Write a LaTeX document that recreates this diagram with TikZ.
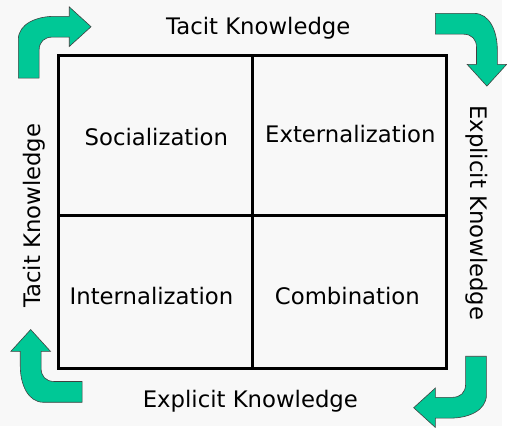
\documentclass[tikz,border=0pt]{standalone}
\usepackage{fontspec}
\setmainfont{DejaVu Sans}
\usetikzlibrary{positioning}

\definecolor{paper}{HTML}{F8F8F8}
\definecolor{flow}{HTML}{00C896}

\tikzset{
  % curved cycle arrow, drawn at a corner and turned with rotate=
  pics/turn/.style={code={
    \filldraw[fill=flow, draw=black!75, line width=0.6pt]
      (-10.5,52) -- (-10.5,13)
      .. controls (-10.5,-3) and (8,-10.5) .. (26,-10.5)
      -- (41,-10.5) -- (41,-20) -- (63,0) -- (41,20) -- (41,10.5)
      -- (24,10.5) .. controls (16,10.5) and (10.5,15) .. (10.5,24)
      -- (10.5,52) -- cycle;
  }}
}

\begin{document}
\begin{tikzpicture}[
  x=1pt, y=-1pt,
  font=\fontsize{23}{27}\selectfont,
  frame/.style={line width=3pt, line cap=rect},
  cell/.style={anchor=base, inner sep=0pt},
  axis/.style={anchor=base, inner sep=0pt}
]

% ── Page ──────────────────────────────────────────────────────────────────
\fill[paper] (0,0) rectangle (507,430);

% ── The 2x2 matrix ────────────────────────────────────────────────────────
\coordinate (nw) at (59,56);
\coordinate (se) at (451,372);
\draw[frame] (nw) rectangle (se);
\draw[frame] (255,56) -- (255,372);
\draw[frame] (59,218) -- (451,218);

\node[cell] (soc) at (158,147) {Socialization};
\node[cell] (ext) at (354,144) {Externalization};
\node[cell] (int) at (153,308) {Internalization};
\node[cell] (com) at (351,308) {Combination};

% ── Knowledge types round the edges ──────────────────────────────────────
\node[axis] (tacitN) at (261,35) {Tacit Knowledge};
\node[axis] (explS) at (253,412) {Explicit Knowledge};
\node[axis, rotate=90] (tacitW) at (41,218) {Tacit Knowledge};
\node[axis, rotate=-90] (explE) at (475,215) {Explicit Knowledge};

% ── Corner arrows, one turn of the cycle each ────────────────────────────
\pic at (29,27) {turn};
\pic[rotate=-90] at (492,24) {turn};
\pic[rotate=180] at (481,412) {turn};
\pic[rotate=90] at (31,396) {turn};

\end{tikzpicture}
\end{document}
